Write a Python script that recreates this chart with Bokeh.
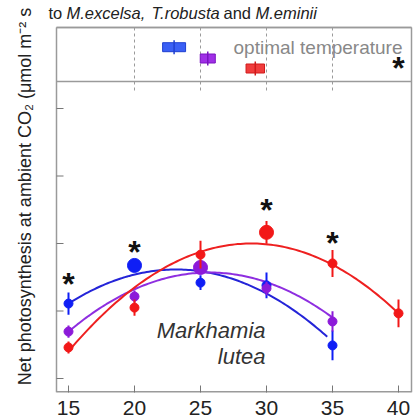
import numpy as np
from bokeh.plotting import figure
from bokeh.models import ColumnDataSource, FixedTicker, Range1d
from bokeh.core.properties import value
from bokeh.embed import file_html
from bokeh.resources import INLINE

# ---------------- data ----------------
temps_blue = [15, 20, 25, 30, 35]
rate_blue = [4.22, 5.35, 4.84, 4.76, 2.98]
err_blue = [0.33, 0.15, 0.22, 0.38, 0.44]

temps_purple = [15, 20, 25, 30, 35]
rate_purple = [3.39, 4.43, 5.29, 4.67, 3.69]
err_purple = [0.18, 0.18, 0.20, 0.20, 0.30]

temps_red = [15, 20, 25, 30, 35, 40]
rate_red = [2.92, 4.10, 5.67, 6.33, 5.41, 3.93]
err_red = [0.18, 0.24, 0.41, 0.34, 0.40, 0.41]

# quadratic fits: vertex temperature, peak rate, curvature, fitted range
fit_vertex = [23.15, 25.68, 28.85]
fit_peak = [5.23, 5.14, 6.00]
fit_curv = [-0.0152, -0.01535, -0.01665]
fit_start = [15, 15, 15]
fit_end = [34.6, 35, 40]

# optimal temperature (top panel): centre and half range
opt_temp = [23.0, 25.55, 29.15]
opt_half = [0.87, 0.57, 0.70]

# significance asterisks
sig_temps = [15, 20, 30, 35]
sig_heights = [4.93, 5.88, 7.10, 6.12]

x_ticks = [15, 20, 25, 30, 35, 40]
y_ticks = [2, 4, 6, 8, 10]

# ---------------- layout helpers (pixel -> data) ----------------
W, H = 415, 419
FL, FR, FT, FB = 40, 413, 0, 392       # frame edges in canvas pixels
PXX, PXY = 13.2, 33.75                 # pixels per unit


def dx(px):
    return 15 + (px - 68) / PXX


def dy(py):
    return 2 + (378 - py) / PXY


FONT = "Liberation Sans"
BORDER = "#9a9a9a"

p = figure(width=W, height=H, output_backend="svg", toolbar_location=None,
           x_range=Range1d(dx(FL), dx(FR)), y_range=Range1d(dy(FB), dy(FT)),
           min_border_left=FL, min_border_right=W - FR, min_border_top=FT,
           min_border_bottom=H - FB)
p.background_fill_color = "white"
p.border_fill_color = "white"
p.outline_line_color = None
p.xgrid.visible = False
p.ygrid.visible = False

p.xaxis.ticker = FixedTicker(ticks=x_ticks)
p.yaxis.ticker = FixedTicker(ticks=y_ticks)
p.xaxis.axis_line_color = None
p.xaxis.major_tick_in = 7
p.xaxis.major_tick_out = 0
p.xaxis.minor_tick_line_color = None
p.xaxis.major_tick_line_color = "#777777"
p.xaxis.major_label_text_font = FONT
p.xaxis.major_label_text_font_size = "21px"
p.xaxis.major_label_text_color = "#222222"
p.xaxis.major_label_standoff = 8

p.yaxis.axis_line_color = None
p.yaxis.major_tick_line_color = None
p.yaxis.minor_tick_line_color = None
p.yaxis.major_tick_in = 0
p.yaxis.major_tick_out = 0
p.yaxis.major_label_overrides = {t: "" for t in y_ticks}
p.yaxis.major_label_standoff = 0
p.yaxis.axis_label = "Net photosynthesis at ambient CO\u2082 (\u03bcmol m\u207b\u00b2 s"
p.yaxis.axis_label_text_font = FONT
p.yaxis.axis_label_text_font_size = "18px"
p.yaxis.axis_label_text_font_style = "normal"
p.yaxis.axis_label_text_color = "#222222"
p.yaxis.axis_label_standoff = 6

# ---------------- frame borders ----------------
xl, xr = dx(56), dx(411)
yt, ysep, yb = dy(27), dy(81), dy(392)
p.segment(x0=[xl, xr, xl, xl, xl], y0=[yt, yt, yt, ysep, yt],
          x1=[xr, xr, xr, xr, xl], y1=[yt, yb, yt, ysep, yb],
          line_color=BORDER, line_width=1.5)
# bottom edge lies on the frame boundary (half of the width is clipped)
p.segment(x0=[xl], y0=[yb], x1=[xr], y1=[yb], line_color=BORDER, line_width=3)

# inward y ticks on the left border
p.segment(x0=[xl] * len(y_ticks), y0=y_ticks, x1=[dx(63)] * len(y_ticks), y1=y_ticks,
          line_color="#777777", line_width=1)

# dashed reference lines in the top panel
dash_x = [20, 25, 30, 35]
p.segment(x0=dash_x, y0=[yt] * 4, x1=dash_x, y1=[dy(92)] * 4,
          line_color="#9a9a9a", line_width=1, line_dash="3 3")

# ---------------- title (second line, partly visible) ----------------
title_parts = [("to", 48, "normal"), ("M.excelsa,", 66, "italic"),
               ("T.robusta", 151, "italic"), ("and", 223, "normal"),
               ("M.eminii", 255, "italic")]
for txt, px, style in title_parts:
    p.text(x=[dx(px)], y=[dy(12)], text=[txt], text_font=value(FONT),
           text_font_style=style, text_font_size="16.5px", text_align="left",
           text_baseline="alphabetic", text_color="#222222")

# ---------------- top panel: optimal temperature ----------------
row_y = [dy(46.7), dy(58), dy(68)]
box_h = 9 / PXY
opt_src = ColumnDataSource(dict(
    x=opt_temp, y=row_y, w=[2 * h for h in opt_half],
    fill=["#3a5ff5", "#a02fe6", "#f03c3c"],
    line=["#1f3fd0", "#7a14c0", "#d01a1a"]))
p.rect(x="x", y="y", width="w", height=box_h, source=opt_src,
       fill_color="fill", line_color="line", line_width=1)
p.segment(x0=opt_temp, y0=[y - 7 / PXY for y in row_y],
          x1=opt_temp, y1=[y + 7 / PXY for y in row_y],
          line_color=["#1f3fd0", "#7a14c0", "#d01a1a"], line_width=1.5)

p.text(x=[dx(402)], y=[dy(46.7)], text=["optimal temperature"],
       text_font=value(FONT), text_font_size="19px", text_align="right",
       text_baseline="alphabetic", text_color="#888888")
p.text(x=[40], y=[dy(63)], text=["*"], text_font=value(FONT),
       text_font_size="32px", text_font_style="bold", text_align="center",
       text_baseline="alphabetic", y_offset=4, text_color="#111111")

# ---------------- main panel ----------------
series = [
    (temps_blue, rate_blue, err_blue, "#0f1ef5", "#2424d8"),
    (temps_purple, rate_purple, err_purple, "#8c1ad9", "#8e2ee0"),
    (temps_red, rate_red, err_red, "#f21818", "#ee2020"),
]

for i, (tx, ry, er, mcol, lcol) in enumerate(series):
    xs = np.linspace(fit_start[i], fit_end[i], 120)
    ys = fit_peak[i] + fit_curv[i] * (xs - fit_vertex[i]) ** 2
    p.line(xs, ys, line_color=lcol, line_width=2)

for i, (tx, ry, er, mcol, lcol) in enumerate(series):
    p.segment(x0=tx, y0=[r - e for r, e in zip(ry, er)],
              x1=tx, y1=[r + e for r, e in zip(ry, er)],
              line_color=mcol, line_width=2)
    imax = int(np.argmax(ry))
    sizes = [14 if j == imax else 9 for j in range(len(ry))]
    p.scatter(x=tx, y=ry, size=sizes, marker="circle",
              fill_color=mcol, line_color=mcol, line_width=1)

p.text(x=sig_temps, y=sig_heights, text=["*"] * len(sig_temps),
       text_font=value(FONT), text_font_size="32px", text_font_style="bold",
       text_align="center", text_baseline="alphabetic", y_offset=4,
       text_color="#111111")

p.text(x=[dx(265), dx(265)], y=[dy(330), dy(356)], text=["Markhamia", "lutea"],
       text_font=value(FONT), text_font_style="italic", text_font_size="22px",
       text_align="right", text_baseline="alphabetic", text_color="#333333")

open("out.html", "w").write(file_html(p, INLINE, "plot"))
